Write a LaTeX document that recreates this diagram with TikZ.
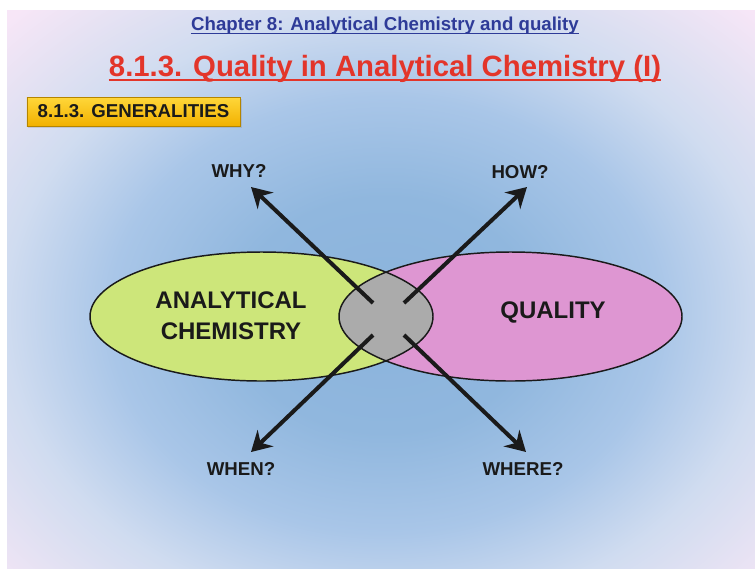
\documentclass[tikz,border=0pt]{standalone}
\usepackage{fontspec}
\setmainfont{Liberation Sans}
\usetikzlibrary{arrows.meta,positioning,shadows}
\definecolor{chapblue}{HTML}{2E3B98}
\definecolor{titlered}{HTML}{E3352A}
\definecolor{inkdark}{HTML}{1A1A1A}
\definecolor{limefill}{HTML}{CDE67A}
\definecolor{pinkfill}{HTML}{DE96D2}
\definecolor{lensgray}{HTML}{ABABAB}
\definecolor{goldtop}{HTML}{FFD73A}
\definecolor{goldbot}{HTML}{F2B100}
\definecolor{bgcore}{HTML}{8BB3DC}
\definecolor{bginner}{HTML}{90B7DE}
\definecolor{bgmid}{HTML}{A9C6E8}
\definecolor{bgedge}{HTML}{D0DCF0}
\definecolor{bgouter}{HTML}{E6E2F3}
\definecolor{bgcorner}{HTML}{F7E6F7}
\pgfdeclareradialshading{slideglow}{\pgfpoint{0bp}{0bp}}{color(0bp)=(bgcore); color(7bp)=(bginner); color(13bp)=(bgmid); color(18bp)=(bgedge); color(22bp)=(bgouter); color(25bp)=(bgcorner); color(50bp)=(bgcorner)}
\tikzset{lbl/.style={font=\bfseries\fontsize{14}{17}\selectfont,text=inkdark,inner sep=1pt},
  setlbl/.style={font=\bfseries\fontsize{18}{23}\selectfont,text=inkdark,align=center,inner sep=0pt},
  setline/.style={draw=inkdark,line width=1.1pt},
  arrow/.style={-{Stealth[length=15pt,width=17pt,inset=5pt]},line width=3pt,draw=inkdark}}

\begin{document}
\begin{tikzpicture}[x=0.75pt,y=-0.75pt]
\useasboundingbox (0,0) rectangle (755,572);
% slide background
\begin{scope}
\clip (7,10) rectangle (755,568);
\shade[shading=slideglow] (-145,-105) rectangle (915,735);
\end{scope}
% headings
\node[anchor=base,inner sep=0pt,text=chapblue,font=\bfseries\fontsize{14}{17}\selectfont] (chapter) at (385,30) {Chapter 8: Analytical Chemistry and quality};
\draw[chapblue,line width=1.2pt] ([yshift=-2.5pt]chapter.base west) -- ([yshift=-2.5pt]chapter.base east);
\node[anchor=base,inner sep=0pt,text=titlered,font=\bfseries\fontsize{22}{26}\selectfont] (title) at (385,76) {8.1.3. Quality in Analytical Chemistry (I)};
\draw[titlered,line width=2pt] ([yshift=-3pt]title.base west) -- ([yshift=-3pt]title.base east);
\node[draw=goldbot!75!black,line width=0.4pt,top color=goldtop,bottom color=goldbot,
  minimum width=160pt,minimum height=21.75pt,inner sep=0pt,
  drop shadow={shadow xshift=1.2pt,shadow yshift=-1.2pt,opacity=0.25},
  font=\bfseries\fontsize{14}{17}\selectfont,text=inkdark] (general) at (133.5,111.5) {8.1.3. GENERALITIES};
% the two sets and their overlap
\coordinate (chemc) at (261.5,316.5);
\coordinate (qualc) at (510.5,316.5);
\fill[limefill] (chemc) ellipse [x radius=171.5,y radius=64.5];
\fill[pinkfill] (qualc) ellipse [x radius=171.5,y radius=64.5];
\begin{scope}
\clip (chemc) ellipse [x radius=171.5,y radius=64.5];
\fill[lensgray] (qualc) ellipse [x radius=171.5,y radius=64.5];
\end{scope}
\draw[setline] (chemc) ellipse [x radius=171.5,y radius=64.5] (qualc) ellipse [x radius=171.5,y radius=64.5];
\node[setlbl] (chemtxt) at (231,316) {ANALYTICAL\\CHEMISTRY};
\node[setlbl] (qualtxt) at (553,312) {QUALITY};
% questions
\node[lbl] (why) at (239,171) {WHY?};
\node[lbl] (how) at (520,172) {HOW?};
\node[lbl] (when) at (241,469) {WHEN?};
\node[lbl] (where) at (523,469) {WHERE?};
\coordinate (nwin) at (373,303);
\coordinate (nein) at (404,303);
\coordinate (swin) at (373,335);
\coordinate (sein) at (404,335);
\coordinate (whytip) at (251,187);
\coordinate (howtip) at (527,187);
\coordinate (whentip) at (251,452);
\coordinate (wheretip) at (526,452);
\draw[arrow] (nwin) -- (whytip);
\draw[arrow] (nein) -- (howtip);
\draw[arrow] (swin) -- (whentip);
\draw[arrow] (sein) -- (wheretip);
\end{tikzpicture}
\end{document}
